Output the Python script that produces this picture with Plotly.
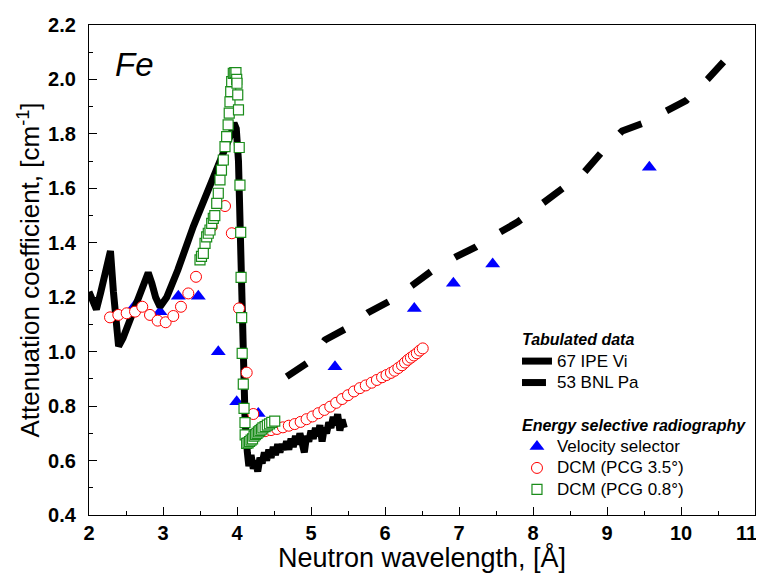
import plotly.graph_objects as go

# ---- Tabulated data: 67 IPE Vi (solid) ----
ipe_x = [2.00, 2.05, 2.10, 2.16, 2.22, 2.26, 2.29, 2.33, 2.37, 2.40, 2.46, 2.53, 2.60, 2.67, 2.74, 2.80,
         2.85, 2.90, 2.96, 3.05, 3.20, 3.30, 3.41, 3.50, 3.59, 3.66, 3.73, 3.80, 3.86, 3.92, 3.96,
         3.99, 4.02, 4.04, 4.05, 4.065, 4.09, 4.11, 4.14,
         4.16, 4.19, 4.22, 4.25, 4.28, 4.31, 4.34, 4.37, 4.40, 4.43, 4.46, 4.49, 4.52, 4.55, 4.58,
         4.61, 4.64, 4.67, 4.70, 4.73, 4.76, 4.79, 4.82, 4.85, 4.88, 4.91, 4.94, 4.97, 5.00, 5.03,
         5.06, 5.09, 5.12, 5.15, 5.18, 5.21, 5.24, 5.27, 5.30, 5.33, 5.36, 5.39, 5.42, 5.45]
ipe_y = [1.22, 1.19, 1.155, 1.22, 1.30, 1.35, 1.37, 1.22, 1.07, 1.02, 1.05, 1.10, 1.15, 1.19, 1.24, 1.29,
         1.25, 1.20, 1.165, 1.20, 1.30, 1.38, 1.46, 1.52, 1.58, 1.63, 1.68, 1.72, 1.75, 1.80, 1.84,
         1.82, 1.70, 1.45, 1.25, 1.05, 0.85, 0.74, 0.63,
         0.58, 0.62, 0.57, 0.60, 0.56, 0.61, 0.59, 0.63, 0.60, 0.64, 0.61, 0.65, 0.62, 0.66, 0.63,
         0.66, 0.64, 0.67, 0.64, 0.68, 0.65, 0.69, 0.66, 0.70, 0.67, 0.63, 0.69, 0.67, 0.71, 0.68,
         0.72, 0.69, 0.73, 0.67, 0.72, 0.70, 0.74, 0.72, 0.76, 0.73, 0.77, 0.71, 0.75, 0.72]

# ---- Tabulated data: 53 BNL Pa (dashed) ----
bnl_x = [4.672, 4.942, 5.189, 5.482, 5.776, 6.072, 6.366, 6.639, 6.957, 7.230, 7.524,
         7.797, 8.115, 8.388, 8.696, 8.932, 9.205, 9.478, 9.796, 10.068, 10.364, 10.614]
bnl_y = [0.908, 0.957, 1.043, 1.086, 1.144, 1.187, 1.243, 1.298, 1.348, 1.385, 1.434,
         1.477, 1.542, 1.601, 1.660, 1.734, 1.811, 1.838, 1.883, 1.922, 2.002, 2.076]

# ---- Velocity selector ----
vs_x = [2.62, 2.96, 3.207, 3.477, 3.747, 3.996, 4.288, 5.324, 6.396, 6.924, 7.455, 9.572]
vs_y = [1.17, 1.147, 1.204, 1.204, 1.000, 0.816, 0.773, 0.945, 1.159, 1.251, 1.322, 1.677]

# ---- DCM (PCG 3.5°) ----
d35_x = [2.284, 2.396, 2.509, 2.622, 2.72, 2.824, 2.928, 3.036, 3.139, 3.243, 3.342, 3.446,
         3.658, 3.838, 3.93, 4.027, 4.131, 4.22,
         4.29, 4.38, 4.46, 4.54, 4.62, 4.70, 4.78, 4.86, 4.94, 5.02, 5.10, 5.18, 5.26, 5.34,
         5.42, 5.50, 5.58, 5.66, 5.74, 5.82, 5.89, 5.96, 6.02, 6.08, 6.13, 6.18, 6.23, 6.27,
         6.31, 6.35, 6.39, 6.43, 6.47, 6.51]
d35_y = [1.126, 1.135, 1.141, 1.147, 1.165, 1.135, 1.114, 1.108, 1.131, 1.165, 1.214, 1.275,
         1.459, 1.535, 1.435, 1.159, 0.923, 0.771,
         0.706, 0.708, 0.712, 0.716, 0.722, 0.728, 0.734, 0.742, 0.752, 0.762, 0.774, 0.786,
         0.798, 0.812, 0.826, 0.840, 0.854, 0.866, 0.876, 0.886, 0.896, 0.906, 0.914, 0.922,
         0.930, 0.940, 0.950, 0.960, 0.970, 0.978, 0.986, 0.994, 1.004, 1.012]

# ---- DCM (PCG 0.8°) ----
d08_x = [3.50, 3.52, 3.545, 3.568, 3.59, 3.612, 3.635, 3.658, 3.68, 3.70, 3.726, 3.747, 3.77,
         3.79, 3.815, 3.838, 3.86, 3.88, 3.895, 3.905, 3.915, 3.928, 3.95, 3.97, 3.986, 3.996,
         4.00, 4.01, 4.02, 4.03, 4.04, 4.05, 4.055, 4.063, 4.07, 4.085, 4.095, 4.108, 4.11,
         4.13, 4.15, 4.17, 4.19, 4.21, 4.23, 4.25, 4.27, 4.29, 4.31, 4.33, 4.35, 4.38, 4.41,
         4.44, 4.47, 4.51]
d08_y = [1.337, 1.35, 1.361, 1.398, 1.422, 1.435, 1.447, 1.471, 1.49, 1.50, 1.545, 1.582, 1.631,
         1.667, 1.704, 1.753, 1.79, 1.833, 1.876, 1.918, 1.955, 1.992, 2.022, 2.025, 2.025, 2.00,
         1.986, 1.943, 1.888, 1.75, 1.612, 1.438, 1.273, 1.125, 0.994, 0.881, 0.792, 0.739, 0.694,
         0.663, 0.665, 0.67, 0.675, 0.68, 0.69, 0.695, 0.70, 0.705, 0.71, 0.715, 0.72, 0.725, 0.73,
         0.735, 0.74, 0.745]

# ---- x tick labels (last one padded so it stays inside the page edge) ----
x_tickvals = [2, 3, 4, 5, 6, 7, 8, 9, 10, 11]
x_ticktext = ["2", "3", "4", "5", "6", "7", "8", "9", "10", "11\u00a0\u00a0\u00a0"]

FONT = "Liberation Sans, Arial, sans-serif"


def item(txt):
    return '<span style="font-size:17px">' + txt + '</span>'


def gtitle(txt):
    return '<span style="font-size:16px">' + txt + '</span>'


GT_FONT = dict(family=FONT, size=14.2, style="italic", weight="bold", color="black")

fig = go.Figure()

fig.add_trace(go.Scatter(
    x=vs_x, y=vs_y, mode="markers", name=item("Velocity selector"),
    legendgroup="esr", legendrank=3,
    legendgrouptitle=dict(text=gtitle("Energy selective radiography"), font=GT_FONT),
    marker=dict(symbol="triangle-up", size=13, color="#0000ff", line=dict(width=0))))

fig.add_trace(go.Scatter(
    x=ipe_x, y=ipe_y, mode="lines", name=item("67 IPE Vi"),
    legendgroup="tab", legendrank=1,
    legendgrouptitle=dict(text=gtitle("Tabulated data"), font=GT_FONT),
    line=dict(color="black", width=7)))

fig.add_trace(go.Scatter(
    x=bnl_x, y=bnl_y, mode="lines", name=item("53 BNL Pa"),
    legendgroup="tab", legendrank=2,
    line=dict(color="black", width=7, dash="24px,28px")))

fig.add_trace(go.Scatter(
    x=d35_x, y=d35_y, mode="markers", name=item("DCM (PCG 3.5°)"),
    legendgroup="esr", legendrank=4,
    marker=dict(symbol="circle", size=11, color="white", line=dict(color="#ff0000", width=1))))

fig.add_trace(go.Scatter(
    x=d08_x, y=d08_y, mode="markers", name=item("DCM (PCG 0.8°)"),
    legendgroup="esr", legendrank=5,
    marker=dict(symbol="square", size=10, color="white", line=dict(color="#1a8c1a", width=1.2))))

fig.add_annotation(text="Fe", xref="paper", yref="paper", x=0.036, y=0.92,
                   xanchor="left", yanchor="middle", showarrow=False,
                   font=dict(family=FONT, size=33, style="italic", color="black"))

axis_common = dict(
    showline=True, linecolor="black", linewidth=1.3, mirror=True,
    ticks="inside", ticklen=8, tickwidth=1.3, tickcolor="black",
    showgrid=False, zeroline=False,
    tickfont=dict(family=FONT, size=20, color="black", weight="bold"),
)

fig.update_xaxes(
    range=[2, 11], tickmode="array", tickvals=x_tickvals, ticktext=x_ticktext,
    ticklabeloverflow="allow",
    minor=dict(dtick=0.5, tick0=2, ticks="inside", ticklen=4, tickwidth=1.3, tickcolor="black", showgrid=False),
    title=dict(text="Neutron wavelength, [Å]", font=dict(family=FONT, size=27, color="black"), standoff=9),
    **axis_common)

fig.update_yaxes(
    range=[0.4, 2.2], dtick=0.2, tick0=0.4, tickformat=".1f",
    minor=dict(dtick=0.1, ticks="inside", ticklen=4, tickwidth=1.3, tickcolor="black", showgrid=False),
    title=dict(text="Attenuation coefficient, [cm<sup>-1</sup>]", font=dict(family=FONT, size=26, color="black"), standoff=0),
    ticklabelstandoff=8,
    **axis_common)

fig.update_layout(
    width=748, height=565,
    margin=dict(l=81, r=1, t=17, b=58, autoexpand=False),
    paper_bgcolor="white", plot_bgcolor="white",
    showlegend=True,
    legend=dict(x=0.6426, y=0.39, xanchor="left", yanchor="top",
                bgcolor="rgba(0,0,0,0)", borderwidth=0,
                font=dict(family=FONT, size=14.2, color="black"),
                traceorder="grouped", tracegroupgap=21, itemwidth=30),
)

fig.write_html("out.html")
